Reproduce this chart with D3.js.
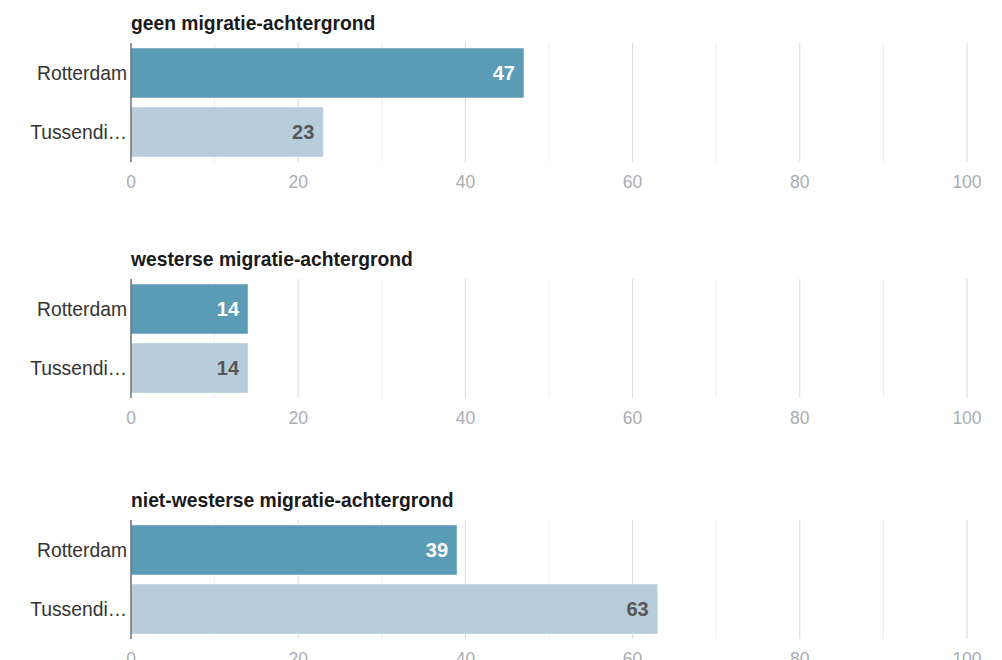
<!DOCTYPE html>
<html>
<head>
<meta charset="utf-8">
<script src="https://cdn.jsdelivr.net/npm/d3@7"></script>
<style>
  html, body { margin: 0; padding: 0; background: #fff; }
  svg { display: block; font-family: "Liberation Sans", Arial, Helvetica, sans-serif; }
</style>
</head>
<body>
<svg id="chart" width="1002" height="660"></svg>
<script>
// ---- data ----
const panelTitles = ["geen migratie-achtergrond", "westerse migratie-achtergrond", "niet-westerse migratie-achtergrond"];
const categories = ["Rotterdam", "Tussendijken"];
const rotterdamValues = [47, 14, 39];
const tussendijkenValues = [23, 14, 63];
const majorTicks = [0, 20, 40, 60, 80, 100];
const minorTicks = [10, 30, 50, 70, 90];

// ---- layout ----
const panelTops = [43, 279, 520];
const panelHeight = 119;
const colors = ["#5a9bb5", "#b7cddb"];
const labelColors = ["#ffffff", "#575757"];

const svg = d3.select("#chart");
const x = d3.scaleLinear().domain([0, 100]).range([131, 967]);
const y = d3.scaleBand().domain(categories).range([0, panelHeight]).paddingInner(0.153).paddingOuter(0.085);

function truncate(textSel, maxW) {
  textSel.each(function() {
    const t = d3.select(this);
    let s = t.text();
    if (this.getComputedTextLength() <= maxW) return;
    while (s.length > 1) {
      s = s.slice(0, -1);
      t.text(s + "\u2026");
      if (this.getComputedTextLength() <= maxW) break;
    }
  });
}

panelTitles.forEach((title, i) => {
  const vals = [rotterdamValues[i], tussendijkenValues[i]];
  const g = svg.append("g").attr("transform", `translate(0,${panelTops[i]})`);

  // title
  g.append("text")
    .attr("x", 131).attr("y", -13)
    .attr("font-size", 19.3).attr("font-weight", "bold").attr("fill", "#1a1a1a")
    .text(title);

  // gridlines
  g.selectAll(".minor").data(minorTicks).enter().append("line")
    .attr("x1", d => x(d)).attr("x2", d => x(d))
    .attr("y1", 0).attr("y2", panelHeight)
    .attr("stroke", "#eceef1").attr("stroke-width", 1);
  g.selectAll(".major").data(majorTicks.filter(d => d > 0)).enter().append("line")
    .attr("x1", d => x(d)).attr("x2", d => x(d))
    .attr("y1", 0).attr("y2", panelHeight)
    .attr("stroke", "#d7dadf").attr("stroke-width", 1);

  // bars
  g.selectAll(".bar").data(vals).enter().append("rect")
    .attr("x", x(0))
    .attr("y", (d, j) => y(categories[j]))
    .attr("width", d => x(d) - x(0))
    .attr("height", y.bandwidth())
    .attr("fill", (d, j) => colors[j])
    .attr("stroke", "rgba(255,255,255,0.45)").attr("stroke-width", 1);

  // value labels
  g.selectAll(".val").data(vals).enter().append("text")
    .attr("x", d => x(d) - 9)
    .attr("y", (d, j) => y(categories[j]) + y.bandwidth() / 2)
    .attr("dy", "0.36em")
    .attr("text-anchor", "end")
    .attr("font-size", 20).attr("font-weight", "bold")
    .attr("fill", (d, j) => labelColors[j])
    .text(d => d);

  // zero axis line
  g.append("line")
    .attr("x1", x(0)).attr("x2", x(0))
    .attr("y1", 0).attr("y2", panelHeight)
    .attr("stroke", "#6b6f73").attr("stroke-width", 1.5);

  // category labels
  const cl = g.selectAll(".cat").data(categories).enter().append("text")
    .attr("x", 127)
    .attr("y", d => y(d) + y.bandwidth() / 2)
    .attr("dy", "0.36em")
    .attr("text-anchor", "end")
    .attr("font-size", 19.3).attr("fill", "#333")
    .text(d => d);
  truncate(cl, 99);

  // x tick labels
  g.selectAll(".tick").data(majorTicks).enter().append("text")
    .attr("x", d => x(d))
    .attr("y", panelHeight + 20)
    .attr("dy", "0.36em")
    .attr("text-anchor", "middle")
    .attr("font-size", 17.5).attr("fill", "#a9adb3")
    .text(d => d);
});
</script>
</body>
</html>
